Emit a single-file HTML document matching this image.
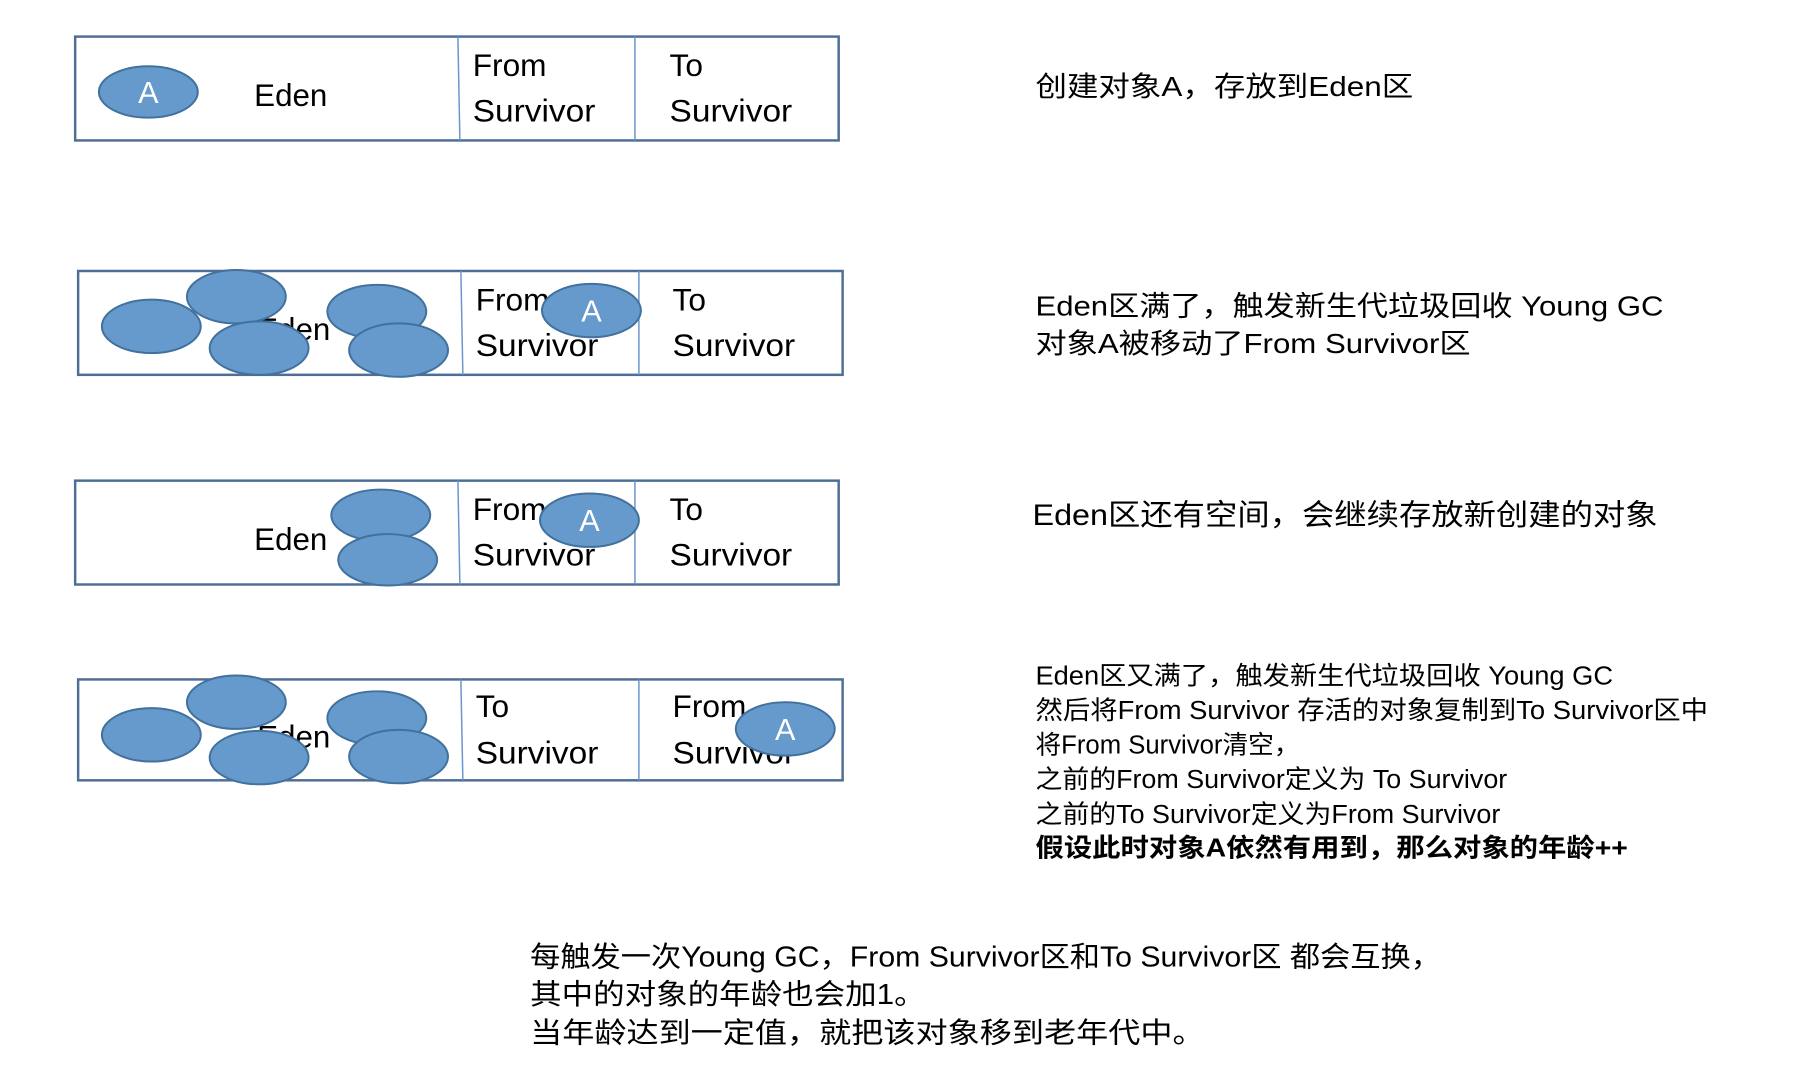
<!DOCTYPE html>
<html><head><meta charset="utf-8"><style>
html,body{margin:0;padding:0;background:#fff;}
svg{display:block;}
text{font-family:"Liberation Sans","Noto Sans CJK SC",sans-serif;fill:#000;}
.e{fill:#6699cc;stroke:#41719c;stroke-width:2;}
.b{fill:#fff;stroke:#4e6e96;stroke-width:2.5;}
.d{stroke:#6b96cc;stroke-width:1.5;}
.l{font-size:32px;}
.a{font-size:31px;fill:#fff;}
.r{font-size:28px;}
</style></head><body>
<svg width="1808" height="1084" viewBox="0 0 1808 1084" xmlns="http://www.w3.org/2000/svg">
<g transform="scale(0.989)">
<!-- Box1 -->
<rect class="b" x="76" y="37" width="772" height="105"/>
<line class="d" x1="463" y1="37" x2="465" y2="142"/><line class="d" x1="642" y1="37" x2="642" y2="142"/>
<ellipse class="e" cx="150" cy="93" rx="50" ry="26"/>
<text class="a" x="150" y="104" text-anchor="middle">A</text>
<text class="l" x="257" y="107" textLength="74" lengthAdjust="spacingAndGlyphs">Eden</text>
<text class="l" x="478" y="77">From</text><text class="l" x="478" y="123" textLength="124" lengthAdjust="spacingAndGlyphs">Survivor</text>
<text class="l" x="677" y="77">To</text><text class="l" x="677" y="123" textLength="124" lengthAdjust="spacingAndGlyphs">Survivor</text>
<!-- Box2 -->
<rect class="b" x="79" y="274" width="773" height="105"/>
<line class="d" x1="466" y1="274" x2="468" y2="379"/><line class="d" x1="646" y1="274" x2="646" y2="379"/>
<text class="l" x="260" y="344" textLength="74" lengthAdjust="spacingAndGlyphs">Eden</text>
<text class="l" x="481" y="314">From</text><text class="l" x="481" y="360" textLength="124" lengthAdjust="spacingAndGlyphs">Survivor</text>
<text class="l" x="680" y="314">To</text><text class="l" x="680" y="360" textLength="124" lengthAdjust="spacingAndGlyphs">Survivor</text>
<ellipse class="e" cx="153" cy="330" rx="50" ry="27"/>
<ellipse class="e" cx="239" cy="300" rx="50" ry="27"/>
<ellipse class="e" cx="262" cy="352" rx="50" ry="27"/>
<ellipse class="e" cx="381" cy="315" rx="50" ry="27"/>
<ellipse class="e" cx="403" cy="354" rx="50" ry="27"/>
<ellipse class="e" cx="598" cy="314" rx="50" ry="27"/>
<text class="a" x="598" y="325" text-anchor="middle">A</text>
<!-- Box3 -->
<rect class="b" x="76" y="486" width="772" height="105"/>
<line class="d" x1="463" y1="486" x2="465" y2="591"/><line class="d" x1="642" y1="486" x2="642" y2="591"/>
<text class="l" x="257" y="556" textLength="74" lengthAdjust="spacingAndGlyphs">Eden</text>
<text class="l" x="478" y="526">From</text><text class="l" x="478" y="572" textLength="124" lengthAdjust="spacingAndGlyphs">Survivor</text>
<text class="l" x="677" y="526">To</text><text class="l" x="677" y="572" textLength="124" lengthAdjust="spacingAndGlyphs">Survivor</text>
<ellipse class="e" cx="385" cy="521" rx="50" ry="26"/>
<ellipse class="e" cx="392" cy="566" rx="50" ry="26"/>
<ellipse class="e" cx="596" cy="526" rx="50" ry="27"/>
<text class="a" x="596" y="537" text-anchor="middle">A</text>
<!-- Box4 -->
<rect class="b" x="79" y="687" width="773" height="102"/>
<line class="d" x1="466" y1="687" x2="468" y2="789"/><line class="d" x1="646" y1="687" x2="646" y2="789"/>
<text class="l" x="260" y="756" textLength="74" lengthAdjust="spacingAndGlyphs">Eden</text>
<text class="l" x="481" y="725">To</text><text class="l" x="481" y="772" textLength="124" lengthAdjust="spacingAndGlyphs">Survivor</text>
<text class="l" x="680" y="725">From</text><text class="l" x="680" y="772" textLength="124" lengthAdjust="spacingAndGlyphs">Survivor</text>
<ellipse class="e" cx="153" cy="743" rx="50" ry="27"/>
<ellipse class="e" cx="239" cy="710" rx="50" ry="27"/>
<ellipse class="e" cx="262" cy="766" rx="50" ry="27"/>
<ellipse class="e" cx="381" cy="726" rx="50" ry="27"/>
<ellipse class="e" cx="403" cy="765" rx="50" ry="27"/>
<ellipse class="e" cx="794" cy="737" rx="50" ry="27"/>
<text class="a" x="794" y="748" text-anchor="middle">A</text>
<!-- Right texts -->
<text class="r" x="1047" y="97" textLength="382" lengthAdjust="spacingAndGlyphs">创建对象A，存放到Eden区</text>
<text class="r" x="1047" y="319" textLength="635" lengthAdjust="spacingAndGlyphs">Eden区满了，触发新生代垃圾回收 Young GC</text>
<text class="r" x="1047" y="357" textLength="440" lengthAdjust="spacingAndGlyphs">对象A被移动了From Survivor区</text>
<text class="r" x="1044" y="531" style="font-size:30px" textLength="632" lengthAdjust="spacingAndGlyphs">Eden区还有空间，会继续存放新创建的对象</text>
<g style="font-size:26px">
<text x="1047" y="692" textLength="584" lengthAdjust="spacingAndGlyphs">Eden区又满了，触发新生代垃圾回收 Young GC</text>
<text x="1047" y="727" textLength="680" lengthAdjust="spacingAndGlyphs">然后将From Survivor 存活的对象复制到To Survivor区中</text>
<text x="1047" y="762" textLength="267" lengthAdjust="spacingAndGlyphs">将From Survivor清空，</text>
<text x="1047" y="797" textLength="477" lengthAdjust="spacingAndGlyphs">之前的From Survivor定义为 To Survivor</text>
<text x="1047" y="832" textLength="470" lengthAdjust="spacingAndGlyphs">之前的To Survivor定义为From Survivor</text>
<text x="1047" y="866" font-weight="bold" textLength="599" lengthAdjust="spacingAndGlyphs">假设此时对象A依然有用到，那么对象的年龄++</text>
</g>
<g style="font-size:29px">
<text x="536" y="977" textLength="921" lengthAdjust="spacingAndGlyphs">每触发一次Young GC，From Survivor区和To Survivor区 都会互换，</text>
<text x="536" y="1015" textLength="400" lengthAdjust="spacingAndGlyphs">其中的对象的年龄也会加1。</text>
<text x="536" y="1054" textLength="682" lengthAdjust="spacingAndGlyphs">当年龄达到一定值，就把该对象移到老年代中。</text>
</g>
</g>
</svg>
</body></html>
